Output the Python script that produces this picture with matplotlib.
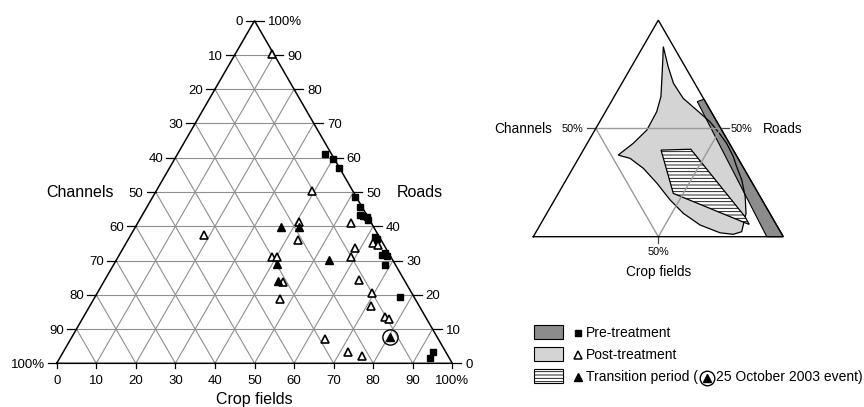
import numpy as np
import matplotlib.pyplot as plt
from matplotlib.transforms import Affine2D
from matplotlib.patches import Polygon, Rectangle

plt.rcParams['font.family'] = ['Liberation Sans', 'DejaVu Sans']
plt.rcParams['hatch.linewidth'] = 0.6

# Event compositions: % crop fields and % roads (channels make up the rest)
pre_crop = [37.3, 40.1, 42.9, 51.1, 53.9, 55.0, 56.0, 57.0, 57.9, 62.0, 62.8,
            66.4, 67.0, 67.7, 68.7, 77.2, 93.3, 93.6]
pre_road = [61.1, 59.6, 57.1, 48.6, 45.5, 43.3, 43.0, 42.8, 41.8, 37.0, 36.2,
            31.6, 32.1, 31.4, 28.7, 19.3, 3.4, 1.5]

post_crop = [9.2, 39.5, 18.6, 40.5, 43.1, 54.0, 62.5, 64.0, 58.6, 58.8, 39.1,
             40.2, 45.5, 47.1, 64.2, 69.6, 71.0, 76.2, 77.7, 64.2, 72.0, 76.2]
post_road = [90.2, 50.3, 37.4, 41.3, 36.0, 40.9, 35.0, 34.5, 33.6, 31.1, 30.9,
             31.1, 23.6, 18.7, 24.3, 20.4, 16.7, 13.6, 12.8, 7.0, 3.4, 2.1]

trans_crop = [36.8, 41.4, 53.8, 41.1, 44.0]
trans_road = [39.7, 39.7, 30.2, 29.0, 24.0]

# 25 October 2003 event
event_crop = [80.5]
event_road = [7.6]

# Envelopes on the summary triangle (% crop fields, % roads)
pre_env_crop = [34.4, 36.5, 100.0, 93.4]
pre_env_road = [62.4, 63.5, 0.0, 0.0]

post_env_crop = [8.1, 14.7, 20.6, 28.0, 36.1, 44.1, 49.7, 55.8, 61.5, 65.2,
                 70.3, 75.5, 79.7, 82.2, 79.4, 73.8, 64.0, 54.6, 46.2, 37.1,
                 28.2, 20.6, 15.1, 18.4, 20.8, 20.5, 18.7, 15.2, 11.0]
post_env_road = [87.8, 78.5, 70.9, 63.9, 58.5, 53.1, 48.5, 43.1, 37.0, 32.3,
                 26.2, 18.5, 10.8, 2.3, 1.1, 1.8, 5.4, 10.8, 17.0, 24.7,
                 31.6, 36.2, 37.7, 43.1, 49.3, 57.7, 64.7, 72.4, 81.6]

trans_env_crop = [31.1, 42.8, 80.1, 83.5, 80.5, 46.0]
trans_env_road = [40.0, 40.4, 9.2, 5.7, 6.8, 20.0]

ticks = list(range(0, 101, 10))

DARK = '#8c8c8c'
LIGHT = '#d4d4d4'
GRID = '#8f8f8f'

W, H = 864, 407
fig = plt.figure(figsize=(W / 100, H / 100), dpi=100)

# (crop %, road %) -> cartesian position inside a unit equilateral triangle
TERN = Affine2D(np.array([[1.0, 0.5, 0.0],
                          [0.0, np.sqrt(3) / 2, 0.0],
                          [0.0, 0.0, 1.0]])).scale(0.01)
S3 = np.sqrt(3) / 2


def triangle_axes(x0, y0, side):
    # full-figure axes where the unit triangle has its lower-left corner at pixel (x0, y0)
    ax = fig.add_axes([0, 0, 1, 1])
    ax.set_xlim(-x0 / side, (W - x0) / side)
    ax.set_ylim(-(H - y0) / side, y0 / side)
    ax.axis('off')
    return ax


# ---- main ternary diagram ----
side1 = 395.6
ax1 = triangle_axes(56.7, 363.3, side1)
tr1 = TERN + ax1.transData

for k in ticks[1:-1]:
    ax1.plot([0, 100 - k], [k, k], transform=tr1, color=GRID, lw=0.8)
    ax1.plot([k, k], [0, 100 - k], transform=tr1, color=GRID, lw=0.8)
    ax1.plot([100 - k, 0], [0, 100 - k], transform=tr1, color=GRID, lw=0.8)
ax1.plot([0, 100, 0, 0], [0, 0, 100, 0], transform=tr1, color='k', lw=1.1,
         solid_joinstyle='miter')

tl = 9 / side1
bl = 5 / side1
lab = dict(fontsize=9.5, textcoords='offset pixels', va='baseline')
for k in ticks:
    y = k * S3 / 100
    xl, xr = k / 200, 1 - k / 200
    ax1.plot([xl - tl, xl], [y, y], color='k', lw=0.9)
    ax1.plot([xr, xr + tl], [y, y], color='k', lw=0.9)
    ax1.plot([k / 100, k / 100], [0, -bl], color='k', lw=0.9)
    ch_txt = '100%' if k == 0 else str(100 - k)
    rd_txt = '100%' if k == 100 else str(k)
    cr_txt = '100%' if k == 100 else str(k)
    ax1.annotate(ch_txt, (xl, y), xytext=(-12, -4.7), ha='right', **lab)
    ax1.annotate(rd_txt, (xr, y), xytext=(13, -4.7), ha='left', **lab)
    ax1.annotate(cr_txt, (k / 100, 0), xytext=(0, -20.7), ha='center', **lab)

ax1.annotate('Channels', (0.25, 0.5 * S3), xytext=(-42, -4.7), ha='right',
             textcoords='offset pixels', va='baseline', fontsize=11.5)
ax1.annotate('Roads', (0.75, 0.5 * S3), xytext=(43, -4.7), ha='left',
             textcoords='offset pixels', va='baseline', fontsize=11.5)
ax1.annotate('Crop fields', (0.5, 0), xytext=(0, -41), ha='center',
             textcoords='offset pixels', va='baseline', fontsize=11.5)

ax1.plot(pre_crop, pre_road, 's', transform=tr1, ms=5.0, color='k', zorder=5)
ax1.plot(post_crop, post_road, '^', transform=tr1, ms=5.8, mfc='white',
         mec='k', mew=1.2, zorder=5)
ax1.plot(trans_crop, trans_road, '^', transform=tr1, ms=6.2, color='k', zorder=5)
ax1.plot(event_crop, event_road, '^', transform=tr1, ms=6.2, color='k', zorder=5)
ax1.plot(event_crop, event_road, 'o', transform=tr1, ms=11, mfc='none',
         mec='k', mew=1.0, zorder=5)

# ---- summary triangle ----
side2 = 250
ax2 = triangle_axes(533.3, 236.7, side2)
tr2 = TERN + ax2.transData

post_xy = np.column_stack([post_env_crop, post_env_road])
ax2.add_patch(Polygon(post_xy, closed=True, transform=tr2, fc=LIGHT, ec='none', zorder=1))
ax2.add_patch(Polygon(np.column_stack([pre_env_crop, pre_env_road]), closed=True,
                      transform=tr2, fc=DARK, ec='k', lw=0.8, zorder=2))
ax2.add_patch(Polygon(post_xy, closed=True, transform=tr2, fill=False, ec='k',
                      lw=0.9, zorder=3))
ax2.add_patch(Polygon(np.column_stack([trans_env_crop, trans_env_road]), closed=True,
                      transform=tr2, fc='white', ec='k', lw=0.9, hatch='-----', zorder=4))

ax2.plot([0, 50], [50, 50], transform=tr2, color='#9a9a9a', lw=1.0, zorder=5)
ax2.plot([0, 50, 50], [50, 0, 50], transform=tr2, color='#9a9a9a', lw=1.0, zorder=5)
ax2.plot([0, 100, 0, 0], [0, 0, 100, 0], transform=tr2, color='k', lw=1.0,
         solid_joinstyle='miter', zorder=6)

ax2.plot([0.25 - 9 / side2, 0.25], [0.5 * S3] * 2, color='#444444', lw=0.9)
ax2.plot([0.75, 0.75 + 8 / side2], [0.5 * S3] * 2, color='#444444', lw=0.9)
ax2.plot([0.5, 0.5], [0, -6 / side2], color='#444444', lw=0.9)

small = dict(textcoords='offset pixels', va='baseline')
ax2.annotate('50%', (0.25, 0.5 * S3), xytext=(-12, -3.8), ha='right', fontsize=7.8, **small)
ax2.annotate('50%', (0.75, 0.5 * S3), xytext=(10, -3.8), ha='left', fontsize=7.8, **small)
ax2.annotate('50%', (0.5, 0), xytext=(0, -18.7), ha='center', fontsize=7.8, **small)
ax2.annotate('Channels', (0.25, 0.5 * S3), xytext=(-44, -5), ha='right', fontsize=9.8, **small)
ax2.annotate('Roads', (0.75, 0.5 * S3), xytext=(42.5, -5), ha='left', fontsize=9.8, **small)
ax2.annotate('Crop fields', (0.5, 0), xytext=(0, -39), ha='center', fontsize=9.8, **small)

# ---- legend ----
ax3 = fig.add_axes([0, 0, 1, 1])
ax3.set_xlim(0, W)
ax3.set_ylim(H, 0)
ax3.axis('off')

ax3.add_patch(Rectangle((534.3, 325.0), 29, 14.3, fc=DARK, ec='k', lw=0.8))
ax3.add_patch(Rectangle((534.3, 346.7), 29, 14.3, fc=LIGHT, ec='k', lw=0.8))
ax3.add_patch(Rectangle((534.3, 368.6), 29, 14.7, fc='white', ec='k', lw=0.8, hatch='-----'))

ax3.plot([577.5], [332.5], 's', ms=4.8, color='k')
ax3.plot([577.5], [354.5], '^', ms=5.6, mfc='white', mec='k', mew=1.1)
ax3.plot([577.5], [376.5], '^', ms=6.0, color='k')

ax3.text(586, 337.3, 'Pre-treatment', fontsize=10, va='baseline')
ax3.text(586, 359.3, 'Post-treatment', fontsize=10, va='baseline')
t1 = ax3.text(586, 381.3, 'Transition period (', fontsize=10, va='baseline')

fig.canvas.draw()
x_end = t1.get_window_extent(fig.canvas.get_renderer()).x1
cx = x_end + 8.5
ax3.plot([cx], [377.5], '^', ms=6.0, color='k')
ax3.plot([cx], [377.5], 'o', ms=10.5, mfc='none', mec='k', mew=1.0)
ax3.text(cx + 10, 381.3, '25 October 2003 event)', fontsize=10, va='baseline')

fig.savefig('out.png', dpi=100)
